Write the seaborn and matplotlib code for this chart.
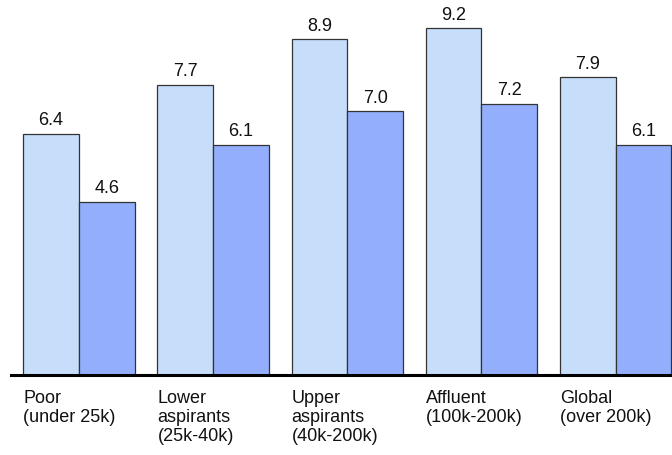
import matplotlib
matplotlib.use("Agg")
import matplotlib.pyplot as plt
import seaborn as sns
import pandas as pd

# Segment labels and the two series per segment
segments = [
    "Poor\n(under 25k)",
    "Lower\naspirants\n(25k-40k)",
    "Upper\naspirants\n(40k-200k)",
    "Affluent\n(100k-200k)",
    "Global\n(over 200k)",
]
series_names = ["A", "B"]
values_a = [6.4, 7.7, 8.9, 9.2, 7.9]
values_b = [4.6, 6.1, 7.0, 7.2, 6.1]

df = pd.DataFrame({
    "segment": segments * 2,
    "series": [series_names[0]] * len(segments) + [series_names[1]] * len(segments),
    "value": values_a + values_b,
})

sns.set_theme(style="white")
plt.rcParams["font.family"] = ["Liberation Sans", "DejaVu Sans"]

fig = plt.figure(figsize=(6.72, 4.56), dpi=100)
ax = fig.add_axes([11 / 672, 80 / 456, 1 - 11 / 672, 1 - 80 / 456])

palette = {"A": "#c6defa", "B": "#93aefc"}
width = 0.83
sns.barplot(data=df, x="segment", y="value", hue="series", palette=palette,
            width=width, dodge=True, saturation=1, edgecolor="#333333",
            linewidth=0.9, legend=False, ax=ax, errorbar=None)

for cont in ax.containers:
    ax.bar_label(cont, fmt="%.1f", padding=4, fontsize=13, color="#111111")

ax.set_xlim(-0.5065, 4.42)
ax.set_ylim(0, 376 / 37.7)

# Tick labels left-aligned with each group's first bar
ax.set_xticks([i - width / 2 for i in range(len(segments))])
ax.set_xticklabels(segments, ha="left", va="top", fontsize=13, color="#111111",
                   linespacing=1.15)
ax.tick_params(axis="x", length=0, pad=10)
ax.set_yticks([])
ax.set_xlabel("")
ax.set_ylabel("")

for side in ["top", "right", "left"]:
    ax.spines[side].set_visible(False)
ax.spines["bottom"].set_color("#000000")
ax.spines["bottom"].set_linewidth(2.2)

fig.savefig("out.png", dpi=100)
